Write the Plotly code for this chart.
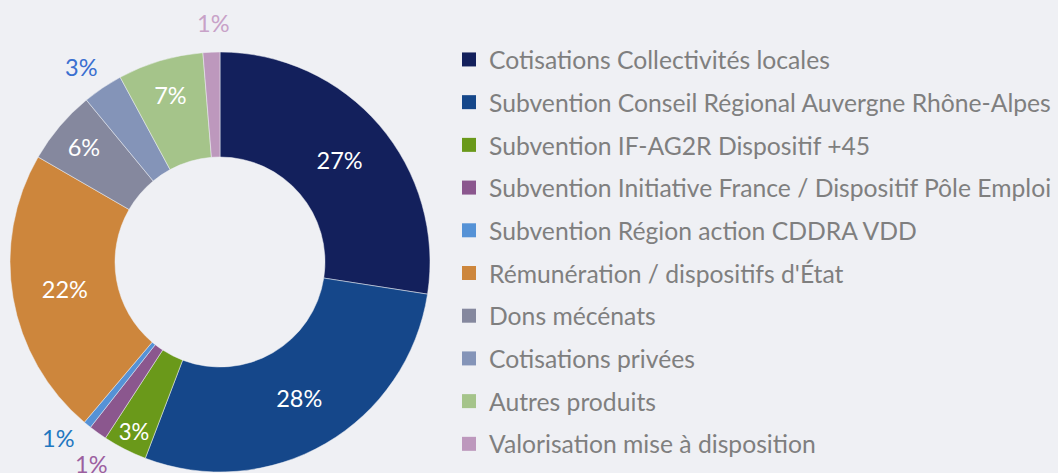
import math
import plotly.graph_objects as go

labels = [
    "Cotisations Collectivités locales",
    "Subvention Conseil Régional Auvergne Rhône-Alpes",
    "Subvention IF-AG2R Dispositif +45",
    "Subvention Initiative France / Dispositif Pôle Emploi",
    "Subvention Région action CDDRA VDD",
    "Rémunération / dispositifs d'État",
    "Dons mécénats",
    "Cotisations privées",
    "Autres produits",
    "Valorisation mise à disposition",
]
values = [27.5, 28.4, 3.4, 1.4, 0.6, 22.2, 5.7, 3.1, 6.6, 1.3]
colors = ["#13205c", "#15478a", "#6a991a", "#8b578e", "#5592d6",
          "#cd863c", "#85889e", "#8494b8", "#a5c48a", "#bd98bd"]
# small slices get their label outside, in a colour close to the slice
outside_colors = [None, None, None, "#9c5fa0", "#1f77c0",
                  None, None, "#3a6fd0", None, "#c8a2c8"]
# angular nudge (degrees) so neighbouring outside labels don't collide
label_nudge = [0, 0, 0, -3.0, 3.5, 0, 0, -1.5, 0, 0.6]

bg = "#eff0f4"
W, H = 1058, 473
cx, cy, R = 220, 262, 210

positions = ["inside" if c is None else "none" for c in outside_colors]

fig = go.Figure()
fig.add_trace(go.Pie(
    labels=labels,
    values=values,
    hole=0.5,
    sort=False,
    direction="clockwise",
    rotation=0,
    marker=dict(colors=colors, line=dict(color=bg, width=0.5)),
    texttemplate="%{percent:.0%}",
    textposition=positions,
    insidetextorientation="horizontal",
    textfont=dict(family="Lato", size=23.5, color="white"),
    showlegend=False,
    hoverinfo="label+percent",
    domain=dict(x=[(cx - R) / W, (cx + R) / W], y=[1 - (cy + R) / H, 1 - (cy - R) / H]),
))

# outside labels placed on the slice's mid angle
total = sum(values)
cum = 0
annotations = []
for v, col, nudge in zip(values, outside_colors, label_nudge):
    mid = (cum + v / 2) / total * 360 + nudge
    cum += v
    if col is None:
        continue
    r = R * 1.14
    px = cx + r * math.sin(math.radians(mid))
    py = cy - r * math.cos(math.radians(mid))
    annotations.append(dict(
        x=px / W, y=1 - py / H, xref="paper", yref="paper",
        text=f"{round(v / total * 100)}%", showarrow=False,
        xanchor="center", yanchor="middle",
        font=dict(family="Lato", size=23.5, color=col),
    ))

# legend entries as separate groups so spacing can match the reference
for lab, col in zip(labels, colors):
    fig.add_trace(go.Scatter(
        x=[None], y=[None], mode="markers", name=lab, legendgroup=lab,
        marker=dict(symbol="square", size=14, color=col),
    ))

fig.update_layout(
    width=W, height=H,
    paper_bgcolor=bg, plot_bgcolor=bg,
    margin=dict(l=0, r=0, t=0, b=0),
    xaxis=dict(visible=False), yaxis=dict(visible=False),
    annotations=annotations,
    legend=dict(
        x=0.4244, y=0.922, xanchor="left", yanchor="top",
        font=dict(family="Lato", size=24.7, color="#7f7f7f"),
        tracegroupgap=7.6, itemwidth=30, bgcolor="rgba(0,0,0,0)",
    ),
)

fig.write_html("out.html", config={"displayModeBar": False},
               post_script="document.body.style.margin='0';")
